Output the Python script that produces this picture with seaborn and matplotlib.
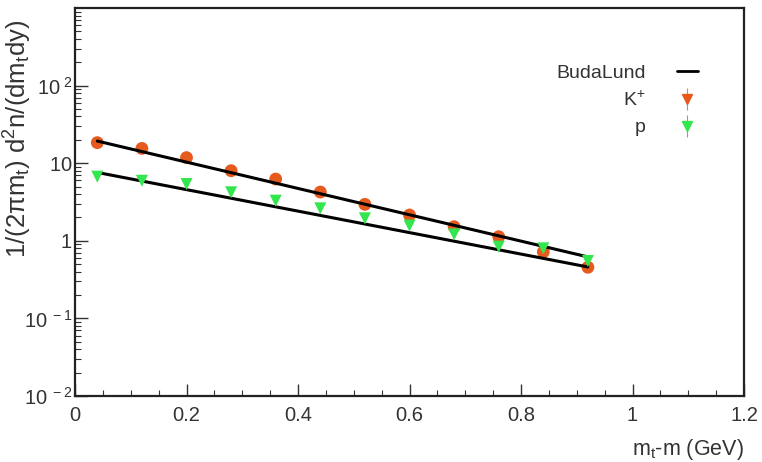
import matplotlib
matplotlib.use("Agg")
import matplotlib.pyplot as plt
import seaborn as sns
import numpy as np
import pandas as pd
from matplotlib.lines import Line2D
from matplotlib.ticker import FixedLocator, LogLocator, FixedFormatter, MultipleLocator, NullFormatter

# ---- data ----
mt_m = [0.04, 0.12, 0.20, 0.28, 0.36, 0.44, 0.52, 0.60, 0.68, 0.76, 0.84, 0.92]
kaon = [18.4, 15.5, 11.8, 8.0, 6.25, 4.25, 2.95, 2.15, 1.52, 1.13, 0.72, 0.456]
proton = [6.7, 5.94, 5.39, 4.22, 3.29, 2.62, 1.95, 1.57, 1.21, 0.84, 0.80, 0.55]
fit_x = [0.04, 0.92]
fit_kaon = [19.3, 0.62]
fit_proton = [7.6, 0.46]
y_tick_vals = [1e-2, 1e-1, 1, 10, 100]
y_tick_labels = [r"$\mathregular{10^{\ -2}}$", r"$\mathregular{10^{\ -1}}$",
                 r"$\mathregular{1\quad}$", r"$\mathregular{10\quad}$", r"$\mathregular{10^{\ 2}}$"]
x_tick_vals = [0, 0.2, 0.4, 0.6, 0.8, 1.0, 1.2]
x_tick_labels = ["0", "0.2", "0.4", "0.6", "0.8", "1", "1.2"]

KCOL = "#e65a1e"
PCOL = "#33e64d"

sns.set_style("white")
plt.rcParams["font.family"] = ["Liberation Sans", "DejaVu Sans"]
plt.rcParams["mathtext.fontset"] = "custom"
plt.rcParams["mathtext.rm"] = "Liberation Sans"
plt.rcParams["mathtext.it"] = "Liberation Sans"

fig = plt.figure(figsize=(7.62, 4.62), dpi=100)
ax = fig.add_axes([75/762, 1-396/462, (744-75)/762, (396-8)/462])

df = pd.DataFrame({"x": mt_m, "K": kaon, "p": proton})
fdf = pd.DataFrame({"x": fit_x, "K": fit_kaon, "p": fit_proton})

sns.lineplot(data=fdf, x="x", y="K", ax=ax, color="black", lw=2.2, zorder=3)
sns.lineplot(data=fdf, x="x", y="p", ax=ax, color="black", lw=2.2, zorder=3)
sns.scatterplot(data=df, x="x", y="K", ax=ax, color=KCOL, marker="o", s=85,
                edgecolor="none", zorder=2)
sns.scatterplot(data=df, x="x", y="p", ax=ax, color=PCOL, marker="v", s=75,
                edgecolor="none", zorder=4)

ax.set_yscale("log")
ax.set_xlim(0, 1.2)
ax.set_ylim(1e-2, 1e3)

ax.xaxis.set_major_locator(FixedLocator(x_tick_vals))
ax.xaxis.set_major_formatter(FixedFormatter(x_tick_labels))
ax.xaxis.set_minor_locator(MultipleLocator(0.05))
ax.yaxis.set_major_locator(FixedLocator(y_tick_vals))
ax.yaxis.set_major_formatter(FixedFormatter(y_tick_labels))
ax.yaxis.set_minor_locator(LogLocator(base=10, subs=np.arange(2, 10)))
ax.yaxis.set_minor_formatter(NullFormatter())

ax.tick_params(axis="both", which="both", direction="in", top=False, right=False,
               bottom=True, left=True, labelsize=14.5, colors="#333333", labelcolor="#333333")
ax.tick_params(axis="both", which="major", length=9, width=1)
ax.tick_params(axis="both", which="minor", length=4, width=0.8)
ax.tick_params(axis="x", pad=7)
ax.tick_params(axis="y", pad=2)

for side in ["left", "bottom", "top", "right"]:
    ax.spines[side].set_visible(True)
    ax.spines[side].set_color("#222222")
    ax.spines[side].set_linewidth(1.6)

ax.set_xlabel(r"m$_\mathregular{t}$-m (GeV)", fontsize=15.5, color="#333333", loc="right", labelpad=9)
ax.set_ylabel(r"1/(2$\pi$m$_\mathregular{t}$) d$^\mathregular{2}$n/(dm$_\mathregular{t}$dy)",
              fontsize=18.5, color="#333333", loc="top")
ax.yaxis.set_label_coords(-0.062, 0.97)

h_fit = Line2D([], [], color="black", lw=2)
h_k = (Line2D([], [], color="#999999", marker="|", ls="none", markersize=16, mew=0.8),
       Line2D([], [], color=KCOL, marker="v", ls="none", markersize=7))
h_p = (Line2D([], [], color="#999999", marker="|", ls="none", markersize=16, mew=0.8),
       Line2D([], [], color=PCOL, marker="v", ls="none", markersize=7))
leg = ax.legend([h_fit, h_k, h_p], ["BudaLund", r"K$^\mathregular{+}$", "p"],
                loc="upper left", bbox_to_anchor=(0.693, 0.90), frameon=False,
                markerfirst=False, fontsize=14, handlelength=1.1, handletextpad=1.6,
                labelspacing=0.45)
for t in leg.get_texts():
    t.set_color("#333333")

fig.savefig("out.png", dpi=100, facecolor="white")
